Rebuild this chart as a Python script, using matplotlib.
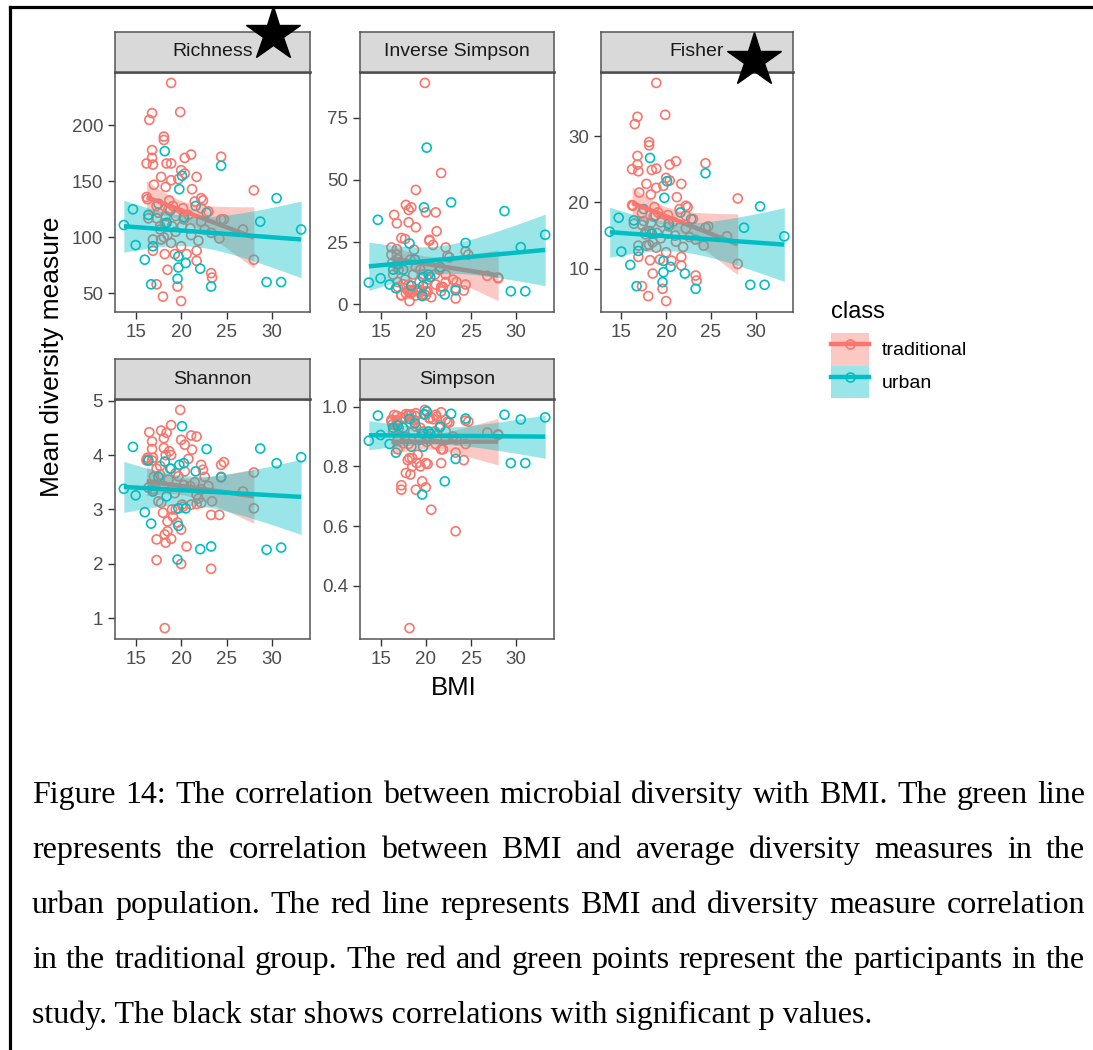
import numpy as np
import matplotlib
matplotlib.use("Agg")
import matplotlib.pyplot as plt
from matplotlib.patches import Patch
from matplotlib.lines import Line2D
from matplotlib.ticker import MultipleLocator, FormatStrFormatter

plt.rcParams['font.family'] = ['Liberation Sans', 'DejaVu Sans']

# ---- participants: BMI and diversity measures, per class ----
bmi_trad = [
    16.5, 16.2, 16.3, 16.4, 16.2,
    16.8, 16.8, 16.9, 16.8, 17.0, 16.9, 16.9,
    17.3, 17.3, 17.3, 17.5,
    17.8, 17.7, 17.8, 18.0, 17.7,
    18.1, 18.1, 18.4, 18.3, 18.3, 18.2, 18.2, 18.1,
    18.7, 18.5, 18.5, 18.6,
    18.9, 18.9, 18.9, 19.1, 18.9, 19.0,
    19.4, 19.3, 19.6, 19.4, 19.7,
    19.9, 20.0, 20.0, 20.0, 20.1,
    20.4, 20.4, 20.2, 20.3, 20.6,
    21.1, 21.2, 21.1, 20.8, 21.0,
    21.7, 21.5, 21.7, 21.7,
    22.2, 22.4, 22.2, 22.2, 21.9,
    22.6, 23.0,
    23.3, 23.4, 23.3,
    24.4, 24.7, 24.2, 24.4,
    26.8, 28.0, 28.0,
]
richness_trad = [
    205, 166, 134, 117, 136,
    211, 178, 165, 171, 147, 98, 88,
    128, 58, 117, 122,
    154, 107, 98, 47, 110,
    190, 187, 166, 145, 119, 85, 112, 100,
    133, 102, 71, 125,
    238, 166, 151, 128, 95, 110,
    119, 85, 56, 105, 152,
    212, 160, 92, 43, 110,
    171, 157, 126, 116, 85,
    174, 143, 102, 120, 108,
    154, 132, 88, 79,
    135, 133, 126, 114, 97,
    107, 123,
    68, 64, 104,
    172, 116, 99, 116,
    107, 142, 80,
]
fisher_trad = [
    31.8, 25.0, 19.5, 16.8, 19.6,
    32.9, 27.0, 24.7, 25.7, 21.5, 13.5, 11.8,
    18.4, 7.4, 16.6, 17.2,
    22.8, 15.2, 13.5, 5.9, 15.6,
    29.1, 28.6, 24.9, 21.2, 16.9, 11.3, 15.7, 13.6,
    19.3, 14.0, 9.3, 17.9,
    38.0, 25.1, 22.2, 18.5, 13.2, 15.4,
    17.0, 11.4, 7.0, 14.6, 22.5,
    33.2, 23.7, 12.5, 5.15, 15.3,
    25.7, 23.3, 18.1, 16.4, 11.25,
    26.2, 20.8, 14.1, 17.1, 15.0,
    22.8, 19.0, 11.8, 10.5,
    19.5, 19.3, 18.0, 16.1, 13.3,
    14.8, 17.5,
    9.0, 8.25, 14.4,
    25.9, 16.4, 13.5, 16.2,
    14.9, 20.6, 10.75,
]
invsimpson_trad = [
    36.0, 22.9, 16.8, 12.0, 20.0,
    32.6, 22.2, 18.2, 20.0, 14.0, 9.0, 7.0,
    3.8, 3.6, 26.7, 8.1,
    40.0, 10.0, 4.5, 5.6, 26.3,
    38.0, 33.0, 39.0, 18.0, 4.4, 1.35, 5.8, 8.0,
    22.0, 5.8, 5.0, 12.0,
    46.0, 31.0, 15.0, 6.2, 3.6, 5.3,
    14.0, 9.0, 4.0, 5.0, 12.0,
    89.0, 37.0, 3.7, 5.3, 8.5,
    26.0, 25.6, 5.2, 10.0, 2.9,
    37.0, 29.4, 8.0, 23.9, 12.0,
    52.8, 14.0, 5.3, 7.0,
    22.9, 19.5, 9.0, 12.0, 7.0,
    18.9, 10.0,
    2.4, 9.0, 6.5,
    21.3, 20.0, 5.6, 8.0,
    11.5, 10.8, 10.5,
]
simpson_trad = [
    0.972, 0.956, 0.940, 0.917, 0.950,
    0.969, 0.955, 0.945, 0.950, 0.929, 0.889, 0.857,
    0.737, 0.722, 0.963, 0.877,
    0.975, 0.900, 0.778, 0.821, 0.962,
    0.974, 0.970, 0.974, 0.944, 0.773, 0.259, 0.828, 0.875,
    0.955, 0.828, 0.800, 0.917,
    0.978, 0.968, 0.933, 0.839, 0.722, 0.811,
    0.929, 0.889, 0.750, 0.800, 0.917,
    0.989, 0.973, 0.730, 0.811, 0.882,
    0.962, 0.961, 0.808, 0.900, 0.655,
    0.973, 0.966, 0.875, 0.958, 0.917,
    0.981, 0.929, 0.811, 0.857,
    0.956, 0.949, 0.889, 0.917, 0.857,
    0.947, 0.900,
    0.583, 0.889, 0.846,
    0.953, 0.950, 0.821, 0.875,
    0.913, 0.907, 0.905,
]
shannon_trad = [
    4.42, 3.92, 3.95, 3.40, 3.90,
    4.25, 4.11, 3.95, 3.90, 3.60, 3.37, 3.45,
    2.45, 2.07, 3.75, 3.15,
    4.45, 3.64, 3.12, 2.94, 3.80,
    4.31, 4.13, 4.41, 4.00, 2.39, 0.82, 2.54, 3.43,
    4.07, 2.60, 2.78, 3.55,
    4.55, 4.00, 3.75, 2.87, 2.46, 3.00,
    3.67, 3.30, 2.76, 3.00, 3.61,
    4.83, 4.28, 2.00, 2.63, 3.09,
    4.19, 3.70, 3.05, 3.45, 2.32,
    4.36, 4.10, 3.09, 3.93, 3.43,
    4.34, 3.50, 3.27, 3.10,
    3.82, 3.73, 3.12, 3.37, 3.20,
    3.60, 3.43,
    1.91, 3.15, 2.90,
    3.82, 3.87, 2.90, 3.60,
    3.33, 3.68, 3.02,
]

bmi_urban = [13.7, 14.7, 15.0, 16.0, 16.9, 16.7, 18.2, 19.7, 19.7, 19.6,
             19.8, 20.1, 20.5, 22.1, 23.3, 24.4, 28.7, 29.4, 30.5, 31.0,
             33.2, 22.8, 18.4, 17.5, 18.8, 20.3, 21.6, 16.4]
richness_urban = [111, 125, 93, 80, 92, 58, 177, 83, 73, 63,
                  143, 155, 77, 72, 56, 164, 114, 60, 135, 60,
                  107, 122, 113, 130, 124, 118, 128, 120]
fisher_urban = [15.6, 17.7, 12.6, 10.6, 12.7, 7.4, 26.7, 11.2, 9.5, 8.0,
                20.7, 23.2, 10.3, 9.3, 7.0, 24.4, 16.2, 7.6, 19.4, 7.6,
                14.9, 17.5, 15.3, 19.0, 18.0, 16.8, 18.5, 17.3]
invsimpson_urban = [8.8, 34.0, 10.5, 8.0, 16.0, 6.5, 24.5, 11.0, 7.5, 3.4,
                    39.0, 63.0, 11.0, 4.0, 5.7, 24.7, 37.5, 5.3, 23.0, 5.3,
                    28.0, 41.0, 7.5, 14.0, 18.0, 12.0, 15.0, 14.0]
simpson_urban = [0.886, 0.970, 0.905, 0.875, 0.937, 0.846, 0.959, 0.909, 0.866, 0.706,
                 0.974, 0.984, 0.909, 0.750, 0.825, 0.960, 0.973, 0.811, 0.957, 0.811,
                 0.964, 0.976, 0.866, 0.929, 0.944, 0.917, 0.933, 0.929]
shannon_urban = [3.38, 4.15, 3.26, 2.95, 3.33, 2.74, 3.88, 3.02, 2.70, 2.08,
                 3.82, 4.53, 3.02, 2.27, 2.32, 3.59, 4.12, 2.26, 3.85, 2.30,
                 3.96, 4.11, 3.24, 3.60, 3.75, 3.85, 3.70, 3.90]

caption_lines = [
    "Figure 14: The correlation between microbial diversity with BMI. The green line",
    "represents the correlation between BMI and average diversity measures in the",
    "urban population. The red line represents BMI and diversity measure correlation",
    "in the traditional group. The red and green points represent the participants in the",
    "study. The black star shows correlations with significant p values.",
]

RED = "#F8766D"
TEAL = "#00BFC4"
W, H = 1093, 1050

# facet order: name, trad values, urban values, y tick step, tick format, (row, col)
panels = [
    ("Richness", richness_trad, richness_urban, 50, "%d", (0, 0)),
    ("Inverse Simpson", invsimpson_trad, invsimpson_urban, 25, "%d", (0, 1)),
    ("Fisher", fisher_trad, fisher_urban, 10, "%d", (0, 2)),
    ("Shannon", shannon_trad, shannon_urban, 1, "%d", (1, 0)),
    ("Simpson", simpson_trad, simpson_urban, 0.2, "%.1f", (1, 1)),
]
col_px = [(115, 310), (360, 554), (601, 793)]
row_px = [(72, 312), (399, 639)]
STRIP = 40


def px_box(x0, y0, x1, y1):
    return [x0 / W, 1 - y1 / H, (x1 - x0) / W, (y1 - y0) / H]


def lm_band(x, y, n=80):
    # straight-line fit with a 95% confidence band, like geom_smooth(method="lm")
    x = np.asarray(x, float)
    y = np.asarray(y, float)
    slope, icpt = np.polyfit(x, y, 1)
    xs = np.linspace(x.min(), x.max(), n)
    fit = icpt + slope * xs
    dof = len(x) - 2
    s = np.sqrt(np.sum((y - (icpt + slope * x)) ** 2) / dof)
    sxx = np.sum((x - x.mean()) ** 2)
    se = s * np.sqrt(1 / len(x) + (xs - x.mean()) ** 2 / sxx)
    t = 1.96 + 2.4 / dof
    return xs, fit, fit - t * se, fit + t * se


fig = plt.figure(figsize=(W / 100, H / 100), dpi=100)

all_bmi = np.array(bmi_trad + bmi_urban)
xpad = 0.05 * (all_bmi.max() - all_bmi.min())

for name, tvals, uvals, step, fmt, (r, c) in panels:
    x0, x1 = col_px[c]
    y0, y1 = row_px[r]
    ax = fig.add_axes(px_box(x0, y0, x1, y1))

    ax.scatter(bmi_trad, tvals, s=42, facecolors="none", edgecolors=RED, linewidths=1.2, zorder=2)
    ax.scatter(bmi_urban, uvals, s=42, facecolors="none", edgecolors=TEAL, linewidths=1.2, zorder=2)

    for bx, vals, col in [(bmi_trad, tvals, RED), (bmi_urban, uvals, TEAL)]:
        xs, fit, lo, hi = lm_band(bx, vals)
        ax.fill_between(xs, lo, hi, color=col, alpha=0.4, lw=0, zorder=3)
        ax.plot(xs, fit, color=col, lw=3.2, zorder=3, solid_capstyle="butt")

    yall = np.array(tvals + uvals, float)
    ypad = 0.05 * (yall.max() - yall.min())
    ax.set_xlim(all_bmi.min() - xpad, all_bmi.max() + xpad)
    ax.set_ylim(yall.min() - ypad, yall.max() + ypad)
    ax.xaxis.set_major_locator(MultipleLocator(5))
    ax.yaxis.set_major_locator(MultipleLocator(step))
    ax.yaxis.set_major_formatter(FormatStrFormatter(fmt))
    ax.tick_params(length=5, width=1, color="#333333", labelsize=13.5,
                   labelcolor="#4D4D4D", pad=3.5)
    for sp in ax.spines.values():
        sp.set_color("#555555")
        sp.set_linewidth(1.1)
    ax.spines["top"].set_color("#333333")
    ax.spines["top"].set_linewidth(1.8)

    # facet strip
    sax = fig.add_axes(px_box(x0, y0 - STRIP, x1, y0))
    sax.set_facecolor("#D9D9D9")
    sax.set_xticks([])
    sax.set_yticks([])
    for sp in sax.spines.values():
        sp.set_color("#555555")
        sp.set_linewidth(1.1)
    sax.text(0.5, 0.5, name, ha="center", va="center", fontsize=14,
             color="#1A1A1A", transform=sax.transAxes)

fig.text(52 / W, 1 - 357 / H, "Mean diversity measure", rotation=90,
         ha="center", va="center", fontsize=19)
fig.text(454 / W, 1 - 688 / H, "BMI", ha="center", va="center", fontsize=18.5)

# legend
fig.text(831 / W, 1 - 318 / H, "class", fontsize=17, ha="left", va="baseline")
handles = [
    (Patch(facecolor=RED, alpha=0.4, lw=0),
     Line2D([], [], color=RED, lw=3.2, marker="o", mfc="none", mec=RED, ms=6.5, mew=1.2)),
    (Patch(facecolor=TEAL, alpha=0.4, lw=0),
     Line2D([], [], color=TEAL, lw=3.2, marker="o", mfc="none", mec=TEAL, ms=6.5, mew=1.2)),
]
fig.legend(handles, ["traditional", "urban"], loc="upper left",
           bbox_to_anchor=(831 / W, 1 - 333 / H), frameon=False, borderpad=0,
           borderaxespad=0, handlelength=38 / 19.44, handleheight=43 / 19.44,
           handletextpad=0.65, labelspacing=0, fontsize=14)

# overlay in pixel units: stars, frame and caption
ov = fig.add_axes([0, 0, 1, 1])
ov.set_xlim(0, W)
ov.set_ylim(H, 0)
ov.axis("off")

ov.plot([273, 754], [34, 60], marker="*", ms=41, color="black", ls="none")
ov.plot([10, W], [7, 7], color="black", lw=2.3, solid_capstyle="projecting")
ov.plot([10, 10], [7, H], color="black", lw=2.3, solid_capstyle="projecting")

renderer = fig.canvas.get_renderer()
left, right = 32, 1085
baselines = [803, 858, 913, 968, 1023]
for i, (line, base) in enumerate(zip(caption_lines, baselines)):
    if i == len(caption_lines) - 1:
        ov.text(left, base, line, fontsize=23, family="Liberation Serif",
                ha="left", va="baseline")
        continue
    words = line.split(" ")
    texts = [ov.text(0, base, w, fontsize=23, family="Liberation Serif",
                     ha="left", va="baseline") for w in words]
    widths = [t.get_window_extent(renderer).width for t in texts]
    gap = (right - left - sum(widths)) / (len(words) - 1)
    x = left
    for t, w in zip(texts, widths):
        t.set_x(x)
        x += w + gap

fig.savefig("out.png", dpi=100, facecolor="white")
